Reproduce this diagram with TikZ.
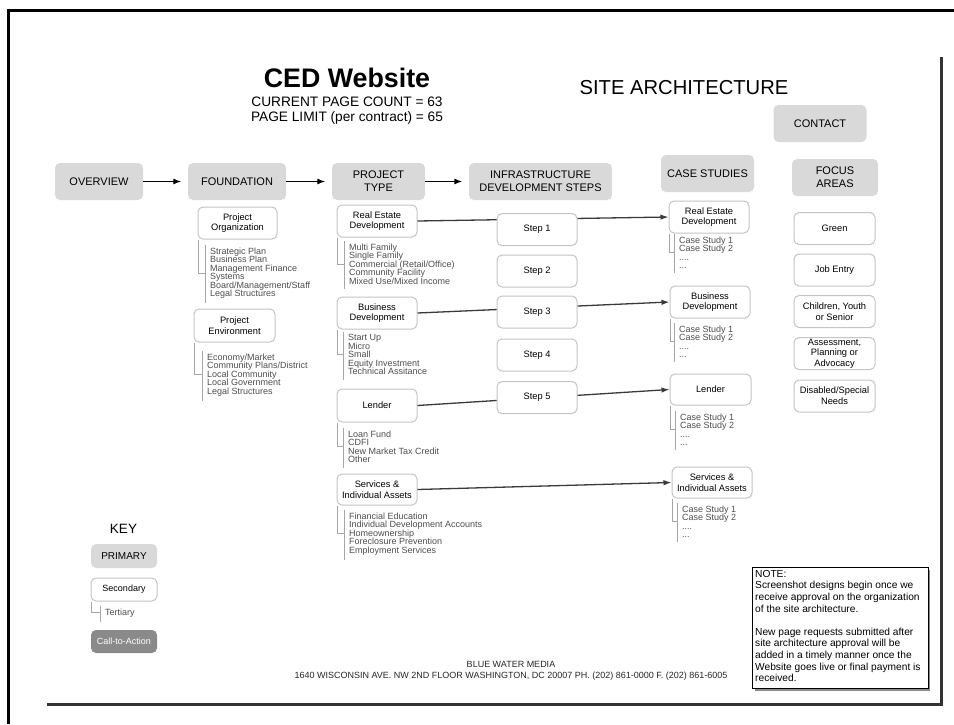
\documentclass[tikz,border=0pt]{standalone}
\usepackage{fontspec}
\setmainfont{Liberation Sans}
\usepackage{xcolor}
\usepackage{tikz}
\usetikzlibrary{arrows.meta}

\definecolor{primfill}{HTML}{D9D9D9}
\definecolor{boxedge}{HTML}{C4C4C4}
\definecolor{thirdtext}{HTML}{4D4D4D}
\definecolor{thirdline}{HTML}{A6A6A6}
\definecolor{ctafill}{HTML}{8A8A8A}
\definecolor{linkgray}{HTML}{3A3A3A}

\tikzset{
	prim/.style={fill=primfill,rounded corners=5pt,align=center,inner sep=0pt,
		minimum width=93pt,minimum height=37pt,font=\fontsize{11}{12.7}\selectfont},
	second/.style={draw=boxedge,line width=1pt,fill=white,rounded corners=5pt,align=center,
		inner sep=0pt,minimum width=80pt,minimum height=32pt,font=\fontsize{9.3}{10.7}\selectfont},
	third/.style={anchor=north west,align=left,inner xsep=5pt,inner ysep=2.5pt,
		text=thirdtext,font=\fontsize{9}{8.5}\selectfont},
	tline/.style={draw=thirdline,line width=0.9pt},
	link/.style={-{Latex[length=8pt,width=5.5pt]},draw=linkgray,line width=1.3pt},
	flow/.style={-{Latex[length=8pt,width=6pt]},line width=1.2pt,shorten >=6.5pt},
}

\begin{document}
\begin{tikzpicture}[x=1pt,y=-1pt]
	\useasboundingbox (0,0) rectangle (954,724);
	% page frame
	\draw[line width=3pt] (7,10) -- (954,10);
	\draw[line width=3pt] (8,8.5) -- (8,724);
	\draw[line width=3pt,black!80] (941,57) -- (941,705.5);
	\draw[line width=3pt,black!80] (47,704) -- (942.5,704);

	% titles
	\node (title) at(347,78)[font=\bfseries\fontsize{26.8}{30}\selectfont]{CED Website};
	\node (count) at(347,110.5)[align=center,font=\fontsize{13.7}{15}\selectfont]{CURRENT PAGE COUNT = 63\\PAGE LIMIT (per contract) = 65};
	\node (arch) at(684,88)[font=\fontsize{20.2}{24}\selectfont]{SITE ARCHITECTURE};

	% primary pages
	\node (overview) at(99,181.5)[prim,minimum width=88pt]{OVERVIEW};
	\node (found) at(237,181.5)[prim,minimum width=98pt]{FOUNDATION};
	\node (ptype) at(378.5,181.5)[prim]{PROJECT\\TYPE};
	\node (infra) at(540.5,181.5)[prim,minimum width=143pt]{INFRASTRUCTURE\\DEVELOPMENT STEPS};
	\node (cases) at(707.5,173.5)[prim]{CASE STUDIES};
	\node (focus) at(835,177.5)[prim,minimum width=86pt]{FOCUS\\AREAS};
	\node (contact) at(820,123.5)[prim]{CONTACT};
	\draw[flow] (overview) -- (found);
	\draw[flow] (found) -- (ptype);
	\draw[flow] (ptype) -- (infra);

	% foundation
	\node (porg) at(237.5,223)[second,minimum width=79pt]{Project\\Organization};
	\node (penv) at(234.5,325.5)[second,minimum width=81pt,minimum height=33pt]{Project\\Environment};
	\node (lporg) at(205,245)[third]{Strategic Plan\\Business Plan\\Management Finance\\Systems\\Board/Management/Staff\\Legal Structures};
	\node (lpenv) at(202,351)[third]{Economy/Market\\Community Plans/District\\Local Community\\Local Government\\Legal Structures};

	% project type
	\node (red) at(377,221)[second]{Real Estate\\Development};
	\node (bdev) at(377,313)[second]{Business\\Development};
	\node (lend) at(377,405.5)[second,minimum height=33pt]{Lender};
	\node (serv) at(377,489.5)[second,minimum height=31pt]{Services \&\\Individual Assets};
	\node (lred) at(344,241)[third]{Multi Family\\Single Family\\Commercial (Retail/Office)\\Community Facility\\Mixed Use/Mixed Income};
	\node (lbdev) at(343,332)[third]{Start Up\\Micro\\Small\\Equity Investment\\Technical Assitance};
	\node (llend) at(343,428)[third]{Loan Fund\\CDFI\\New Market Tax Credit\\Other};
	\node (lserv) at(344,510)[third]{Financial Education\\Individual Development Accounts\\Homeownership\\Foreclosure Prevention\\Employment Services};

	% case studies
	\node (csred) at(709,217)[second]{Real Estate\\Development};
	\node (csbdev) at(710,302)[second]{Business\\Development};
	\node (cslend) at(710.5,389.5)[second,minimum width=81pt,minimum height=31pt]{Lender};
	\node (csserv) at(712,482.5)[second,minimum height=31pt]{Services \&\\Individual Assets};
	\foreach \c/\x/\y in {csred/674/234,csbdev/674/323,cslend/675/411,csserv/677/503}
		\node (l\c) at(\x,\y)[third]{Case Study 1\\Case Study 2\\....\\...};

	% links run under the steps
	\foreach \a in {red,bdev,lend,serv}
		\draw[link] (\a.east) -- (cs\a.west);
	\foreach \n/\y in {1/229.5,2/271,3/312,4/355,5/397.5}
		\node (s\n) at(537,\y)[second]{Step \n};

	% focus areas
	\foreach \n/\y/\t in {1/228.5/{Green},2/270/{Job Entry},3/311.5/{Children, Youth\\or Senior},
		4/353.5/{Assessment,\\Planning or\\Advocacy},5/396/{Disabled/Special\\Needs}}
		\node (f\n) at(834.5,\y)[second,minimum width=81pt]{\t};

	% key
	\node (keyt) at(123.5,529)[font=\fontsize{13.5}{15}\selectfont]{KEY};
	\node (kprim) at(124,556)[prim,minimum width=66pt,minimum height=24pt,font=\fontsize{10}{12}\selectfont]{PRIMARY};
	\node (ksec) at(124,589.5)[second,minimum width=66pt,minimum height=23pt,font=\fontsize{9}{11}\selectfont]{Secondary};
	\node (lksec) at(100,606)[third]{Tertiary};
	\node (kcta) at(124,641.5)[prim,fill=ctafill,text=white,minimum width=66pt,minimum height=23pt,font=\fontsize{9}{11}\selectfont]{Call-to-Action};

	% tertiary brackets
	\foreach \b in {porg,penv,red,bdev,lend,serv,csred,csbdev,cslend,csserv,ksec}{
		\draw[tline] ([xshift=1pt]\b.south west) |- (l\b.west);
		\draw[tline,shorten >=-2pt] (l\b.north west) -- (l\b.south west);
	}

	% note
	\fill[black!45] (754.5,569.5) rectangle (930,690.5);
	\draw[fill=white,line width=0.9pt] (752,567) rectangle (928,688);
	\node (note) at(752,567)[anchor=north west,align=left,inner xsep=3pt,inner ysep=3pt,font=\fontsize{10.2}{11.6}\selectfont]{NOTE:\\Screenshot designs begin once we\\receive approval on the organization\\of the site architecture.\\[11.6pt]New page requests submitted after\\site architecture approval will be\\added in a timely manner once the\\Website goes live or final payment is\\received.};

	% footer
	\node (bwm) at(511,664)[text=black!85,font=\fontsize{9}{11}\selectfont]{BLUE WATER MEDIA};
	\node (addr) at(511,676)[text=black!85,font=\fontsize{9}{11}\selectfont]{1640 WISCONSIN AVE. NW 2ND FLOOR WASHINGTON, DC 20007 PH. (202) 861-0000 F. (202) 861-6005};
\end{tikzpicture}
\end{document}
